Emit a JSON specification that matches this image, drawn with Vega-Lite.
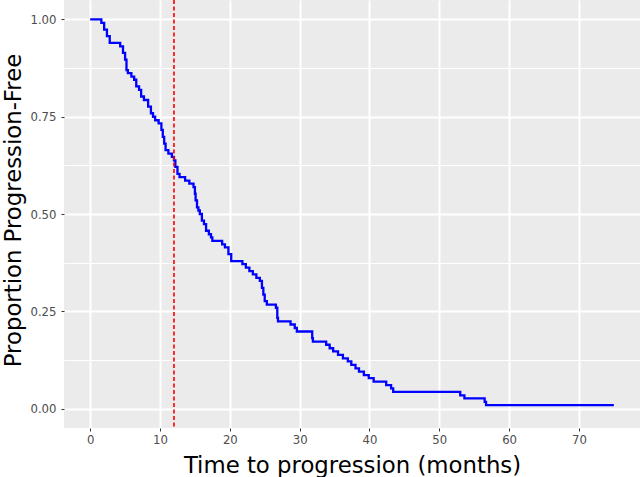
{
  "$schema": "https://vega.github.io/schema/vega-lite/v6.json",
  "width": 576,
  "height": 428,
  "autosize": "none",
  "padding": {"left": 64, "top": 0, "right": 0, "bottom": 49},
  "background": "white",
  "config": {
    "view": {"fill": "#EBEBEB", "stroke": null},
    "font": "DejaVu Sans"
  },
  "datasets": {
    "km": [
      {"t": 0, "s": 1.0},
      {"t": 1.6, "s": 0.991},
      {"t": 2.0, "s": 0.974},
      {"t": 2.4, "s": 0.957},
      {"t": 2.8, "s": 0.940},
      {"t": 4.3, "s": 0.931},
      {"t": 4.7, "s": 0.914},
      {"t": 5.0, "s": 0.897},
      {"t": 5.2, "s": 0.870},
      {"t": 5.4, "s": 0.862},
      {"t": 5.9, "s": 0.853},
      {"t": 6.3, "s": 0.845},
      {"t": 6.6, "s": 0.828},
      {"t": 7.0, "s": 0.819},
      {"t": 7.3, "s": 0.802},
      {"t": 7.7, "s": 0.793},
      {"t": 8.3, "s": 0.776},
      {"t": 8.7, "s": 0.759},
      {"t": 9.0, "s": 0.750},
      {"t": 9.3, "s": 0.741},
      {"t": 9.8, "s": 0.733},
      {"t": 10.2, "s": 0.716},
      {"t": 10.4, "s": 0.698},
      {"t": 10.6, "s": 0.681},
      {"t": 10.8, "s": 0.664},
      {"t": 11.2, "s": 0.655},
      {"t": 11.7, "s": 0.647},
      {"t": 12.0, "s": 0.638},
      {"t": 12.2, "s": 0.621},
      {"t": 12.5, "s": 0.603},
      {"t": 12.8, "s": 0.595},
      {"t": 13.6, "s": 0.586},
      {"t": 14.2, "s": 0.578},
      {"t": 14.8, "s": 0.569},
      {"t": 15.0, "s": 0.552},
      {"t": 15.1, "s": 0.535},
      {"t": 15.3, "s": 0.517},
      {"t": 15.5, "s": 0.509},
      {"t": 15.7, "s": 0.500},
      {"t": 16.0, "s": 0.483},
      {"t": 16.3, "s": 0.474},
      {"t": 16.6, "s": 0.457},
      {"t": 17.0, "s": 0.448},
      {"t": 17.3, "s": 0.440},
      {"t": 17.5, "s": 0.431},
      {"t": 18.9, "s": 0.422},
      {"t": 19.3, "s": 0.414},
      {"t": 19.8, "s": 0.397},
      {"t": 20.2, "s": 0.379},
      {"t": 21.8, "s": 0.371},
      {"t": 22.3, "s": 0.362},
      {"t": 22.8, "s": 0.353},
      {"t": 23.3, "s": 0.345},
      {"t": 23.8, "s": 0.336},
      {"t": 24.3, "s": 0.328},
      {"t": 24.6, "s": 0.310},
      {"t": 24.8, "s": 0.293},
      {"t": 25.0, "s": 0.276},
      {"t": 25.3, "s": 0.267},
      {"t": 26.6, "s": 0.259},
      {"t": 26.8, "s": 0.233},
      {"t": 26.9, "s": 0.224},
      {"t": 28.7, "s": 0.216},
      {"t": 29.3, "s": 0.207},
      {"t": 29.6, "s": 0.198},
      {"t": 31.8, "s": 0.181},
      {"t": 31.9, "s": 0.172},
      {"t": 33.8, "s": 0.164},
      {"t": 34.3, "s": 0.155},
      {"t": 34.8, "s": 0.147},
      {"t": 35.5, "s": 0.138},
      {"t": 36.2, "s": 0.129},
      {"t": 36.9, "s": 0.121},
      {"t": 37.4, "s": 0.112},
      {"t": 38.0, "s": 0.103},
      {"t": 38.5, "s": 0.095},
      {"t": 39.2, "s": 0.086},
      {"t": 39.9, "s": 0.078},
      {"t": 40.6, "s": 0.069},
      {"t": 42.4, "s": 0.060},
      {"t": 43.1, "s": 0.052},
      {"t": 43.4, "s": 0.043},
      {"t": 53.0, "s": 0.034},
      {"t": 53.6, "s": 0.026},
      {"t": 56.5, "s": 0.017},
      {"t": 56.7, "s": 0.009},
      {"t": 75.0, "s": 0.009}
    ],
    "cut": [{"t": 12}]
  },
  "layer": [
    {
      "data": {"name": "km"},
      "mark": {"type": "line", "interpolate": "step-after", "color": "#0000FF", "strokeWidth": 2.3, "clip": true},
      "encoding": {
        "x": {
          "field": "t", "type": "quantitative",
          "scale": {"domain": [-3.75, 78.75], "nice": false, "zero": false},
          "axis": {
            "title": "Time to progression (months)",
            "values": [0, 5, 10, 15, 20, 25, 30, 35, 40, 45, 50, 55, 60, 65, 70, 75],
            "labelExpr": "datum.value % 10 === 0 ? datum.label : ''",
            "domain": false,
            "grid": true,
            "gridColor": "white",
            "gridWidth": {"condition": {"test": "datum.value % 10 !== 0", "value": 1}, "value": 2},
            "tickOpacity": {"condition": {"test": "datum.value % 10 !== 0", "value": 0}, "value": 1},
            "tickColor": "#333333",
            "tickSize": 3,
            "tickWidth": 1,
            "labelColor": "#4D4D4D",
            "labelFontSize": 11.7,
            "labelFont": "DejaVu Sans",
            "labelPadding": 3,
            "titleFont": "DejaVu Sans",
            "titleFontSize": 22.8,
            "titleFontWeight": "normal",
            "titleColor": "black",
            "titleBaseline": "alphabetic",
            "titleY": 44
          }
        },
        "y": {
          "field": "s", "type": "quantitative",
          "scale": {"domain": [-0.05, 1.05], "nice": false, "zero": false},
          "axis": {
            "title": "Proportion Progression-Free",
            "values": [0, 0.125, 0.25, 0.375, 0.5, 0.625, 0.75, 0.875, 1],
            "labelExpr": "datum.value % 0.25 === 0 ? format(datum.value, '.2f') : ''",
            "domain": false,
            "grid": true,
            "gridColor": "white",
            "gridWidth": {"condition": {"test": "datum.value % 0.25 !== 0", "value": 1}, "value": 2},
            "tickOpacity": {"condition": {"test": "datum.value % 0.25 !== 0", "value": 0}, "value": 1},
            "tickColor": "#333333",
            "tickSize": 3,
            "tickWidth": 1,
            "labelColor": "#4D4D4D",
            "labelFontSize": 11.7,
            "labelFont": "DejaVu Sans",
            "labelPadding": 5,
            "titleFont": "DejaVu Sans",
            "titleFontSize": 22.8,
            "titleFontWeight": "normal",
            "titleColor": "black",
            "titleAngle": -90,
            "titleBaseline": "middle",
            "titleAlign": "center",
            "titleX": -51,
            "titleY": 210
          }
        }
      }
    },
    {
      "data": {"name": "cut"},
      "mark": {"type": "rule", "color": "#FF0000", "strokeWidth": 1.6, "strokeDash": [4, 2.5]},
      "encoding": {"x": {"field": "t", "type": "quantitative"}}
    }
  ]
}
